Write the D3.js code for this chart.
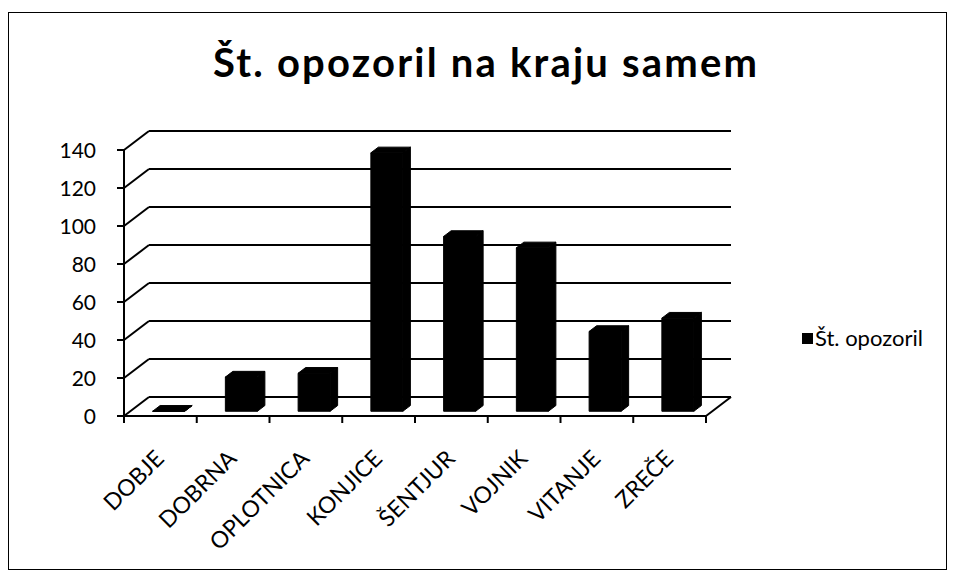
<!DOCTYPE html>
<html>
<head>
<meta charset="utf-8">
<script src="https://d3js.org/d3.v7.min.js"></script>
<style>
  body { margin: 0; background: #fff; }
  text { font-family: Lato, "Open Sans", sans-serif; fill: #000; }
</style>
</head>
<body>
<div id="my_dataviz"></div>
<script>

// data
var categories = ["DOBJE", "DOBRNA", "OPLOTNICA", "KONJICE", "ŠENTJUR", "VOJNIK", "VITANJE", "ZREČE"];
var values = [0, 18, 20, 136, 92, 86, 42, 49];
var yTicks = [0, 20, 40, 60, 80, 100, 120, 140];
var seriesName = "Št. opozoril";
var title = "Št. opozoril na kraju samem";

var W = 954, H = 581;
var svg = d3.select("#my_dataviz")
  .append("svg")
    .attr("width", W)
    .attr("height", H);

// frame
svg.append("rect")
  .attr("x", 8.5).attr("y", 12.5)
  .attr("width", 938).attr("height", 557)
  .attr("fill", "none").attr("stroke", "#000").attr("stroke-width", 1);

// title
svg.append("text")
  .attr("x", 213).attr("y", 77)
  .attr("textLength", 544)
  .attr("lengthAdjust", "spacing")
  .style("font-size", "40px")
  .style("font-weight", "bold")
  .text(title);

// front plane scales
var x = d3.scaleBand()
  .domain(categories)
  .range([124, 706]);
var y = d3.scaleLinear()
  .domain([0, 140])
  .range([416, 150]);

// depth vector (front -> back)
var dx = 25, dy = -19;

var g = svg.append("g");

// back wall grid lines
g.selectAll(".grid")
  .data(yTicks)
  .enter()
  .append("line")
    .attr("x1", 124 + dx).attr("x2", 706 + dx)
    .attr("y1", function(d) { return y(d) + dy; })
    .attr("y2", function(d) { return y(d) + dy; })
    .attr("stroke", "#000").attr("stroke-width", 2);

// side wall diagonals
g.selectAll(".side")
  .data(yTicks)
  .enter()
  .append("line")
    .attr("x1", 124).attr("x2", 124 + dx)
    .attr("y1", function(d) { return y(d); })
    .attr("y2", function(d) { return y(d) + dy; })
    .attr("stroke", "#000").attr("stroke-width", 2);

// floor: front edge and right edge
g.append("line")
  .attr("x1", 124).attr("x2", 706)
  .attr("y1", y(0)).attr("y2", y(0))
  .attr("stroke", "#000").attr("stroke-width", 2);
g.append("line")
  .attr("x1", 706).attr("x2", 706 + dx)
  .attr("y1", y(0)).attr("y2", y(0) + dy)
  .attr("stroke", "#000").attr("stroke-width", 2);

// y axis line + ticks + labels
g.append("line")
  .attr("x1", 124).attr("x2", 124)
  .attr("y1", y(140)).attr("y2", y(0))
  .attr("stroke", "#000").attr("stroke-width", 2);
g.selectAll(".ytick")
  .data(yTicks)
  .enter()
  .append("line")
    .attr("x1", 117).attr("x2", 124)
    .attr("y1", function(d) { return y(d); })
    .attr("y2", function(d) { return y(d); })
    .attr("stroke", "#000").attr("stroke-width", 2);
g.selectAll(".ylab")
  .data(yTicks)
  .enter()
  .append("text")
    .attr("x", 96)
    .attr("y", function(d) { return y(d); })
    .attr("dy", "0.36em")
    .attr("text-anchor", "end")
    .style("font-size", "21px")
    .text(function(d) { return d; });

// x ticks at category boundaries
var bounds = categories.map(function(c) { return x(c); }).concat([706]);
g.selectAll(".xtick")
  .data(bounds)
  .enter()
  .append("line")
    .attr("x1", function(d) { return d; })
    .attr("x2", function(d) { return d; })
    .attr("y1", y(0)).attr("y2", y(0) + 7)
    .attr("stroke", "#000").attr("stroke-width", 2);

// x labels rotated
g.selectAll(".xlab")
  .data(categories)
  .enter()
  .append("text")
    .attr("transform", function(d) {
      return "translate(" + (x(d) + x.bandwidth() / 2 + 5) + "," + (y(0) + 44) + ") rotate(-45)";
    })
    .attr("text-anchor", "end")
    .style("font-size", "23px")
    .text(function(d) { return d; });

// 3D columns
var bw = x.bandwidth() * 0.44;
var f0 = 0.25, f1 = 0.55; // depth range of the column
function pt(px, py, f) { return [px + dx * f, py + dy * f]; }

var bars = g.selectAll(".bar")
  .data(categories.map(function(c, i) { return {cat: c, v: values[i]}; }))
  .enter()
  .append("g");

bars.each(function(d) {
  var xl = x(d.cat) + (x.bandwidth() - bw) / 2 + 2;
  var xr = xl + bw;
  var yb = y(0), yt = y(d.v);
  var sel = d3.select(this);
  var line = d3.line();
  // front face
  sel.append("path")
    .attr("d", line([pt(xl, yb, f0), pt(xr, yb, f0), pt(xr, yt, f0), pt(xl, yt, f0)]) + "Z")
    .attr("fill", "#000").attr("stroke", "#000");
  // side face
  sel.append("path")
    .attr("d", line([pt(xr, yb, f0), pt(xr, yb, f1), pt(xr, yt, f1), pt(xr, yt, f0)]) + "Z")
    .attr("fill", "#000").attr("stroke", "#000");
  // top face
  sel.append("path")
    .attr("d", line([pt(xl, yt, f0), pt(xr, yt, f0), pt(xr, yt, f1), pt(xl, yt, f1)]) + "Z")
    .attr("fill", "#000").attr("stroke", "#000");
});

// legend
svg.append("rect")
  .attr("x", 802).attr("y", 333)
  .attr("width", 11).attr("height", 11)
  .attr("fill", "#000");
svg.append("text")
  .attr("x", 815).attr("y", 346)
  .style("font-size", "22px")
  .text(seriesName);

</script>
</body>
</html>
